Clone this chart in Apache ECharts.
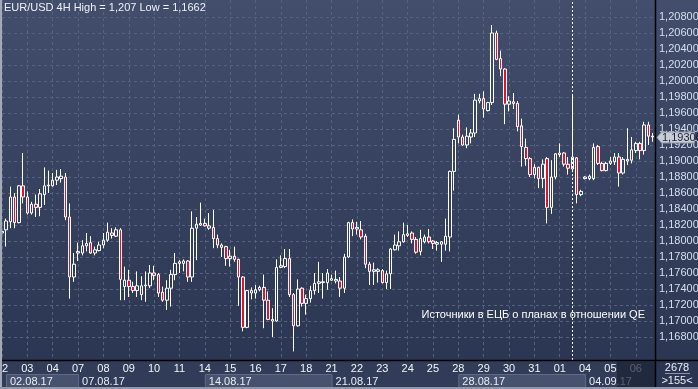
<!DOCTYPE html>
<html><head><meta charset="utf-8">
<script src="https://cdn.jsdelivr.net/npm/echarts@6/dist/echarts.min.js"></script>
<style>html,body{margin:0;padding:0;background:#313c59;overflow:hidden}#c{width:698px;height:389px}</style>
</head><body><div id="c"></div>
<script>
const title = 'EUR/USD 4H High = 1,207 Low = 1,1662';
const note = 'Источники в ЕЦБ о планах в отношении QE';
const days = ['02.08.17','03.08.17','04.08.17','07.08.17','08.08.17','09.08.17','10.08.17','11.08.17','14.08.17','15.08.17','16.08.17','17.08.17','18.08.17','21.08.17','22.08.17','23.08.17','24.08.17','25.08.17','28.08.17','29.08.17','30.08.17','31.08.17','01.09.17','04.09.17','05.09.17','06.09.17'];
const hours = ['00:00','04:00','08:00','12:00','16:00','20:00'];
const weekLabels = ['02.08.17','07.08.17','14.08.17','21.08.17','28.08.17','04.09.17'];
const newsTime = '01.09.17 12:00';
const lastPrice = 1.193;
const totalBars = '2678';
const visibleBars = '>155<';

const opens = [1.1810,1.1814,1.1824,1.1855,1.1823,1.1869, 1.1855,1.1835,1.1846,1.1842,1.1858,1.1869, 1.1869,1.1876,1.1878,1.1880,1.1830,1.1755, 1.1785,1.1785,1.1794,1.1798,1.1785,1.1788, 1.1795,1.1801,1.1810,1.1806,1.1814,1.1743, 1.1751,1.1743,1.1738,1.1733,1.1744,1.1744, 1.1760,1.1758,1.1736,1.1726,1.1741,1.1758, 1.1772,1.1772,1.1775,1.1755,1.1816,1.1820, 1.1822,1.1816,1.1817,1.1803,1.1795,1.1793, 1.1778,1.1781,1.1777,1.1755,1.1692,1.1735, 1.1735,1.1739,1.1742,1.1726,1.1700,1.1700, 1.1767,1.1768,1.1778,1.1733,1.1694,1.1741, 1.1722,1.1728,1.1738,1.1747,1.1748,1.1748, 1.1751,1.1750,1.1750,1.1741,1.1780,1.1823, 1.1815,1.1814,1.1806,1.1771,1.1762,1.1762, 1.1763,1.1748,1.1759,1.1789,1.1794,1.1799, 1.1807,1.1810,1.1802,1.1787,1.1799,1.1805, 1.1800,1.1796,1.1796,1.1796,1.1805,1.1887, 1.1951,1.1930,1.1920,1.1930,1.1935,1.1975, 1.1978,1.1963,1.1973,1.2060,1.2028,1.2015, 1.1971,1.1974,1.1972,1.1944,1.1917,1.1903, 1.1883,1.1892,1.1878,1.1903,1.1842,1.1880, 1.1908,1.1910,1.1896,1.1890,1.1904,1.1858, 1.1878,1.1878,1.1878,1.1918,1.1897,1.1888, 1.1897,1.1899,1.1905,1.1885,1.1900,1.1901, 1.1913,1.1922,1.1913,1.1945,1.1931];
const closes = [1.1812,1.1825,1.1855,1.1823,1.1869,1.1855, 1.1835,1.1846,1.1842,1.1859,1.1869,1.1870, 1.1876,1.1880,1.1881,1.1830,1.1755,1.1771, 1.1787,1.1794,1.1797,1.1785,1.1789,1.1795, 1.1801,1.1811,1.1807,1.1814,1.1752,1.1751, 1.1743,1.1738,1.1744,1.1744,1.1745,1.1760, 1.1757,1.1735,1.1726,1.1741,1.1758,1.1772, 1.1774,1.1775,1.1755,1.1816,1.1821,1.1822, 1.1819,1.1819,1.1803,1.1795,1.1792,1.1778, 1.1781,1.1777,1.1755,1.1692,1.1738,1.1738, 1.1739,1.1742,1.1726,1.1702,1.1702,1.1767, 1.1769,1.1778,1.1733,1.1694,1.1740,1.1722, 1.1728,1.1738,1.1747,1.1749,1.1749,1.1760, 1.1753,1.1752,1.1741,1.1780,1.1823,1.1815, 1.1817,1.1805,1.1771,1.1762,1.1764,1.1764, 1.1748,1.1759,1.1790,1.1795,1.1799,1.1808, 1.1809,1.1802,1.1786,1.1803,1.1805,1.1799, 1.1797,1.1798,1.1799,1.1806,1.1887,1.1927, 1.1930,1.1920,1.1931,1.1935,1.1976,1.1978, 1.1965,1.1973,1.2060,1.2027,1.2015,1.1971, 1.1975,1.1972,1.1943,1.1918,1.1903,1.1883, 1.1892,1.1878,1.1896,1.1842,1.1880,1.1909, 1.1910,1.1896,1.1891,1.1905,1.1858,1.1862, 1.1880,1.1881,1.1917,1.1897,1.1888,1.1897, 1.1900,1.1905,1.1885,1.1902,1.1902,1.1914, 1.1922,1.1913,1.1945,1.1931,1.1930];
const lows = [1.1800,1.1793,1.1816,1.1816,1.1822,1.1847, 1.1833,1.1833,1.1830,1.1831,1.1845,1.1860, 1.1868,1.1870,1.1873,1.1826,1.1728,1.1749, 1.1775,1.1782,1.1787,1.1784,1.1782,1.1787, 1.1791,1.1799,1.1803,1.1805,1.1726,1.1726, 1.1730,1.1735,1.1730,1.1726,1.1724,1.1741, 1.1751,1.1730,1.1724,1.1714,1.1718,1.1751, 1.1760,1.1762,1.1749,1.1749,1.1776,1.1819, 1.1818,1.1814,1.1791,1.1791,1.1780,1.1769, 1.1768,1.1774,1.1719,1.1687,1.1691,1.1727, 1.1728,1.1737,1.1691,1.1701,1.1680,1.1699, 1.1766,1.1766,1.1730,1.1662,1.1693,1.1718, 1.1708,1.1723,1.1733,1.1735,1.1728,1.1739, 1.1750,1.1747,1.1730,1.1735,1.1779,1.1806, 1.1808,1.1802,1.1766,1.1745,1.1745,1.1748, 1.1747,1.1740,1.1740,1.1788,1.1788,1.1798, 1.1805,1.1797,1.1784,1.1782,1.1797,1.1797, 1.1790,1.1788,1.1774,1.1788,1.1787,1.1863, 1.1922,1.1919,1.1916,1.1922,1.1930,1.1972, 1.1954,1.1962,1.1970,1.2026,1.2006,1.1946, 1.1962,1.1965,1.1937,1.1893,1.1894,1.1880, 1.1878,1.1866,1.1866,1.1822,1.1834,1.1877, 1.1905,1.1893,1.1883,1.1886,1.1847,1.1856, 1.1877,1.1876,1.1876,1.1895,1.1887,1.1887, 1.1895,1.1895,1.1868,1.1883,1.1895,1.1897, 1.1910,1.1902,1.1908,1.1920,1.1924];
const highs = [1.1816,1.1828,1.1868,1.1860,1.1870,1.1910, 1.1862,1.1849,1.1858,1.1865,1.1892,1.1888, 1.1885,1.1889,1.1890,1.1885,1.1847,1.1785, 1.1798,1.1801,1.1810,1.1806,1.1793,1.1799, 1.1810,1.1823,1.1816,1.1817,1.1816,1.1768, 1.1764,1.1749,1.1762,1.1756,1.1762,1.1770, 1.1769,1.1760,1.1743,1.1751,1.1764,1.1785, 1.1776,1.1777,1.1776,1.1837,1.1830,1.1848, 1.1828,1.1835,1.1839,1.1808,1.1797,1.1794, 1.1789,1.1793,1.1778,1.1756,1.1739,1.1742, 1.1745,1.1744,1.1758,1.1737,1.1716,1.1777, 1.1782,1.1790,1.1790,1.1735,1.1752,1.1742, 1.1733,1.1744,1.1760,1.1774,1.1760,1.1765, 1.1758,1.1763,1.1755,1.1784,1.1824,1.1827, 1.1824,1.1825,1.1809,1.1774,1.1773,1.1766, 1.1765,1.1763,1.1791,1.1808,1.1812,1.1823, 1.1820,1.1812,1.1805,1.1814,1.1808,1.1815, 1.1801,1.1800,1.1800,1.1828,1.1888,1.1941, 1.1958,1.1933,1.1942,1.1940,1.1984,1.1984, 1.1987,1.1974,1.2070,1.2063,1.2038,1.2016, 1.1981,1.1985,1.1975,1.1953,1.1928,1.1905, 1.1896,1.1893,1.1902,1.1905,1.1901,1.1910, 1.1922,1.1911,1.1905,1.1983,1.1905,1.1864, 1.1881,1.1883,1.1922,1.1920,1.1899,1.1899, 1.1905,1.1910,1.1910,1.1905,1.1941,1.1930, 1.1924,1.1924,1.1949,1.1949,1.1935];

const FONT = "'Liberation Sans Narrow','Liberation Sans',Arial,sans-serif";
const categories = [];
days.forEach(d => hours.forEach(h => categories.push(d + ' ' + h)));
categories.length = opens.length;
const candles = opens.map((o, i) => [o, closes[i], lows[i], highs[i]]);
const fmt = v => v.toFixed(5).replace('.', ',');

const chart = echarts.init(document.getElementById('c'), null, {renderer: 'canvas'});
const gridLine = {color: '#55617d', type: [3, 3], width: 1};
chart.setOption({
  backgroundColor: '#313c59',
  animation: false,
  grid: [
    {left: 2, right: 45.3, top: 0, height: 360, containLabel: false, outerBoundsMode: 'none'},
    {left: 2, right: 45.3, top: 1, height: 352, containLabel: false, outerBoundsMode: 'none'}
  ],
  xAxis: [
    {type: 'category', gridIndex: 0, data: categories, boundaryGap: false,
     axisLine: {show: false}, axisTick: {show: false},
     axisLabel: {interval: (i) => i % 6 === 0, formatter: v => v.slice(0, 2), color: '#f2f5fa',
                 fontSize: 11, fontFamily: FONT, margin: 3, alignMinLabel: 'center', alignMaxLabel: 'center',
                 hideOverlap: false},
     splitLine: {show: true, interval: (i) => i % 6 === 0, lineStyle: gridLine}},
    {type: 'value', gridIndex: 1, show: false, min: 0, max: 1}
  ],
  yAxis: [
    {type: 'value', gridIndex: 0, min: 1.165125, max: 1.210125, show: false},
    {type: 'value', gridIndex: 1, position: 'right', offset: 2.3, min: 1.166, max: 1.210, interval: 0.002,
     axisLine: {show: false}, axisTick: {show: false},
     axisLabel: {color: '#d4dff0', fontSize: 11, fontFamily: FONT, margin: 4,
                 formatter: v => (v < 1.1675 || v > 1.2085) ? '' : fmt(v)},
     splitLine: {show: true, showMinLine: false, showMaxLine: false, lineStyle: gridLine}}
  ],
  series: [{
    type: 'candlestick', xAxisIndex: 0, yAxisIndex: 0, data: candles, barWidth: 3, clip: false,
    itemStyle: {color: 'rgba(0,0,0,0)', color0: '#e3112e', borderColor: '#ffffff', borderColor0: '#ffffff', borderWidth: 1},
    markLine: {symbol: ['none', 'none'], silent: true, animation: false, label: {show: false},
               lineStyle: {color: '#ffffff', type: [2, 2], width: 1}, data: [{xAxis: newsTime}]}
  }]
});

const px = c => chart.convertToPixel({xAxisIndex: 0}, c);
const py = v => chart.convertToPixel({yAxisIndex: 0}, v);
const axisX = 655.5, axisY = 360.5, W = 698, H = 389;
const g = [];
g.push({type: 'rect', z: -10, shape: {x: 0, y: 0, width: W, height: 361},
  style: {fill: new echarts.graphic.LinearGradient(0, 0, 0, 1, [{offset: 0, color: '#424e6b'}, {offset: 1, color: '#2b3653'}])}});
g.push({type: 'rect', z: -10, shape: {x: 0, y: 361, width: W, height: 28}, style: {fill: '#313c58'}});
weekLabels.forEach((w, k) => {
  const d = days.indexOf(w);
  const start = Math.max(px(categories[d * 6]), 6);
  const nextD = k + 1 < weekLabels.length ? days.indexOf(weekLabels[k + 1]) : -1;
  const end = nextD >= 0 ? px(categories[nextD * 6]) : axisX;
  if (k % 2 === 0) {
    g.push({type: 'rect', z: -5, shape: {x: start + 0.5, y: 374.5, width: end - start, height: 14},
      style: {fill: '#46526e', stroke: '#5f6b87', lineWidth: 1}});
  }
  g.push({type: 'text', z: 5, x: start + 4, y: 381.5,
    style: {text: w, fill: '#e8edf5', font: '11px ' + FONT, textVerticalAlign: 'middle'}});
});
g.push({type: 'line', zlevel: 1, z: 20, shape: {x1: axisX, y1: 0, x2: axisX, y2: H}, style: {stroke: '#000000', lineWidth: 1.5}});
g.push({type: 'line', zlevel: 1, z: 20, shape: {x1: 0, y1: axisY, x2: W, y2: axisY}, style: {stroke: '#000000', lineWidth: 1.5}});
g.push({type: 'rect', zlevel: 1, z: 20, shape: {x: 0, y: 0, width: 2, height: H}, style: {fill: '#a2aaba'}});
g.push({type: 'rect', zlevel: 1, z: 20, shape: {x: 0, y: 387, width: W, height: 2}, style: {fill: '#8f98a9'}});
g.push({type: 'rect', zlevel: 1, z: 15, shape: {x: 617, y: 361.5, width: axisX - 617, height: 25.5}, style: {fill: 'rgba(28,35,54,0.72)'}});
g.push({type: 'rect', zlevel: 1, z: 15, shape: {x: 656.5, y: 361.5, width: 41.5, height: 25.5}, style: {fill: '#2b3551'}});
g.push({type: 'text', zlevel: 1, z: 16, x: 677, y: 367.5, style: {text: totalBars, fill: '#e8edf5', font: '11px ' + FONT, textAlign: 'center', textVerticalAlign: 'middle'}});
g.push({type: 'line', zlevel: 1, z: 16, shape: {x1: 665, y1: 373.5, x2: 690, y2: 373.5}, style: {stroke: '#8a93a8', lineWidth: 1}});
g.push({type: 'text', zlevel: 1, z: 16, x: 677, y: 381, style: {text: visibleBars, fill: '#e8edf5', font: '11px ' + FONT, textAlign: 'center', textVerticalAlign: 'middle'}});
g.push({type: 'text', zlevel: 1, z: 16, x: 4, y: 8, style: {text: title, fill: '#eef2f8', font: '11px ' + FONT, textVerticalAlign: 'middle'}});
g.push({type: 'text', zlevel: 1, z: 16, x: 645, y: 315, style: {text: note, fill: '#ffffff', font: '11px ' + FONT, textAlign: 'right', textVerticalAlign: 'middle'}});
const ly = Math.round(py(lastPrice)) + 0.5;
g.push({type: 'polygon', zlevel: 1, z: 18, shape: {points: [[657, ly], [661.5, ly - 5.5], [694.5, ly - 5.5], [694.5, ly + 5.5], [661.5, ly + 5.5]]},
  style: {fill: '#c8ccd4', stroke: '#8c93a2', lineWidth: 1}});
g.push({type: 'text', zlevel: 1, z: 19, x: 662, y: ly, style: {text: fmt(lastPrice), fill: '#1b2236', font: '11px ' + FONT, textVerticalAlign: 'middle'}});
chart.setOption({graphic: g});
</script>
</body></html>
